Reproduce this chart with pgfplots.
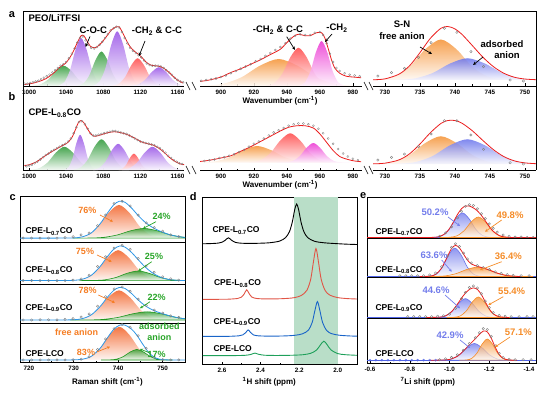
\documentclass[border=0pt]{standalone}
\usepackage{fontspec}
\setmainfont{Liberation Sans}
\usepackage{pgfplots}
\pgfplotsset{compat=1.18}
\usetikzlibrary{arrows.meta}
\definecolor{gC}{RGB}{40,150,50}
\definecolor{pC}{RGB}{150,80,230}
\definecolor{rC}{RGB}{255,70,70}
\definecolor{oC}{RGB}{245,145,50}
\definecolor{mC}{RGB}{235,50,210}
\definecolor{bC}{RGB}{105,115,235}
\definecolor{envR}{RGB}{235,30,30}
\definecolor{cO}{RGB}{242,95,35}
\definecolor{cG}{RGB}{30,150,30}
\definecolor{cB}{RGB}{45,150,230}
\definecolor{dR}{RGB}{225,85,70}
\definecolor{dB}{RGB}{25,100,200}
\definecolor{dG}{RGB}{30,160,90}
\definecolor{band}{RGB}{185,222,200}
\definecolor{tO}{RGB}{245,125,35}
\definecolor{tG}{RGB}{40,165,40}
\definecolor{tB}{RGB}{115,125,235}
\definecolor{eO}{RGB}{245,140,40}
\definecolor{eBl}{RGB}{80,100,230}
\newcommand\T[1]{\fontsize{#1}{#1}\selectfont\bfseries}
\pgfplotsset{
  base/.style={scale only axis, anchor=north west, clip=true,
    tick align=inside, major tick length=2.5pt, minor tick length=1.5pt,
    every tick/.style={black, line width=0.5pt},
    axis line style={black, line width=0.75pt},
    xticklabel style={font=\T{6.3}, inner sep=2pt, yshift=-1.5pt},
    /pgf/number format/assume math mode=true,
    /pgf/number format/1000 sep={},
    ymin=0, ymax=1, ytick=\empty},
  topax/.style={base, axis x line*=bottom, axis y line=none, minor tick num=1},
  boxax/.style={base, xtick pos=bottom, minor tick num=1},
  comp/.style={draw=none, smooth, top color=#1, bottom color=#1!6, fill opacity=0.85},
  ecomp/.style={draw=#1, line width=0.6pt, smooth, top color=#1, bottom color=#1!5, fill opacity=0.75},
  env/.style={smooth, envR, line width=0.8pt},
  circ/.style={only marks, mark=o, mark size=1.05pt, mark options={gray, line width=0.3pt}},
  bcirc/.style={only marks, mark=o, mark size=1.2pt, mark options={gray, line width=0.4pt}},
  revx/.style={x dir=reverse, xmin=-1.435, xmax=-0.585},
}
\begin{document}
\begin{tikzpicture}
\useasboundingbox (0,0) rectangle (554pt,-393pt);
% ---------------- panel a ----------------
\begin{axis}[topax, at={(23pt,-11pt)}, width=161pt, height=75pt, xmin=993.4, xmax=1167, xtick={1000,1040,1080,1120,1160}]
\addplot[comp=gC] coordinates {(1004,0.003)(1012,0.022)(1021,0.091)(1029,0.211)(1037,0.27)(1045,0.211)(1053,0.091)(1062,0.022)(1070,0.003)} \closedcycle;
\addplot[comp=pC] coordinates {(1032,0.007)(1038,0.051)(1044,0.208)(1050,0.483)(1056,0.64)(1062,0.483)(1068,0.208)(1074,0.051)(1080,0.007)} \closedcycle;
\addplot[comp=gC] coordinates {(1052.5,0.005)(1058.9,0.037)(1065.25,0.15)(1071.6,0.347)(1078,0.46)(1084.4,0.347)(1090.75,0.15)(1097.1,0.037)(1103.5,0.005)} \closedcycle;
\addplot[comp=pC] coordinates {(1069.5,0.008)(1075.9,0.058)(1082.25,0.237)(1088.6,0.551)(1095,0.73)(1101.4,0.551)(1107.75,0.237)(1114.1,0.058)(1120.5,0.008)} \closedcycle;
\addplot[comp=rC] coordinates {(1090,0.004)(1096.75,0.03)(1103.5,0.12)(1110.25,0.279)(1117,0.37)(1123.75,0.279)(1130.5,0.12)(1137.25,0.03)(1144,0.004)} \closedcycle;
\addplot[comp=pC] coordinates {(1110,0.003)(1117.5,0.02)(1125,0.081)(1132.5,0.189)(1140,0.25)(1147.5,0.189)(1155,0.081)(1162.5,0.02)(1170,0.003)} \closedcycle;
\addplot[circ] coordinates {(995,0.03)(998,0.03)(1001,0.04)(1004,0.05)(1007,0.06)(1010,0.07)(1013,0.09)(1016,0.11)(1019,0.13)(1022,0.15)(1025,0.18)(1028,0.21)(1031,0.24)(1034,0.27)(1037,0.29)(1040,0.32)(1043,0.37)(1046,0.43)(1049,0.50)(1052,0.58)(1055,0.64)(1058,0.66)(1061,0.61)(1064,0.55)(1067,0.51)(1070,0.50)(1073,0.52)(1076,0.55)(1079,0.59)(1082,0.64)(1085,0.69)(1088,0.74)(1091,0.77)(1094,0.79)(1097,0.78)(1100,0.72)(1103,0.64)(1106,0.57)(1109,0.51)(1112,0.47)(1115,0.44)(1118,0.41)(1121,0.38)(1124,0.34)(1127,0.30)(1130,0.28)(1133,0.27)(1136,0.27)(1139,0.27)(1142,0.26)(1145,0.24)(1148,0.21)(1151,0.18)(1154,0.15)(1157,0.11)(1160,0.08)(1163,0.06)(1166,0.05)};
\addplot[env] coordinates {(995,0.02)(1005,0.04)(1015,0.08)(1021,0.12)(1028,0.19)(1033,0.25)(1039,0.30)(1044,0.38)(1048,0.47)(1052,0.58)(1056,0.67)(1059,0.67)(1062,0.61)(1066,0.53)(1071,0.51)(1075,0.54)(1079,0.59)(1084,0.67)(1089,0.75)(1094,0.79)(1097,0.79)(1100,0.73)(1104,0.63)(1108,0.54)(1112,0.48)(1117,0.43)(1121,0.39)(1126,0.32)(1131,0.28)(1136,0.27)(1141,0.26)(1146,0.23)(1151,0.18)(1156,0.12)(1161,0.07)(1166,0.04)};
\end{axis}
\begin{axis}[topax, at={(200pt,-11pt)}, width=162pt, height=75pt, xmin=887.3, xmax=985.5, xtick={900,920,940,960,980}]
\addplot[comp=oC] coordinates {(890,0.004)(901.25,0.029)(912.5,0.117)(923.75,0.272)(935,0.36)(946.25,0.272)(957.5,0.117)(968.75,0.029)(980,0.004)} \closedcycle;
\addplot[comp=rC] coordinates {(927.5,0.006)(932.4,0.041)(937.25,0.166)(942.1,0.385)(947,0.51)(951.9,0.385)(956.75,0.166)(961.6,0.041)(966.5,0.006)} \closedcycle;
\addplot[comp=mC] coordinates {(947.5,0.007)(950.9,0.048)(954.25,0.195)(957.6,0.453)(961,0.60)(964.4,0.453)(967.75,0.195)(971.1,0.048)(974.5,0.007)} \closedcycle;
\addplot[circ] coordinates {(888,0.07)(891,0.08)(894,0.09)(897,0.10)(900,0.12)(903,0.14)(906,0.17)(909,0.20)(912,0.23)(915,0.26)(918,0.29)(921,0.33)(924,0.36)(927,0.40)(930,0.44)(933,0.48)(936,0.52)(939,0.57)(942,0.63)(945,0.67)(948,0.69)(951,0.68)(954,0.68)(957,0.71)(960,0.72)(962,0.68)(964,0.57)(966,0.43)(968,0.32)(970,0.24)(972,0.20)(975,0.17)(978,0.15)(981,0.14)(984,0.13)};
\addplot[env] coordinates {(887,0.06)(893,0.08)(900,0.12)(906,0.18)(912,0.23)(918,0.29)(924,0.35)(930,0.42)(936,0.49)(940,0.58)(944,0.66)(947,0.69)(951,0.67)(954,0.67)(958,0.71)(961,0.71)(963,0.64)(965,0.50)(967,0.35)(969,0.24)(972,0.17)(976,0.13)(980,0.12)(985,0.11)};
\end{axis}
\begin{axis}[topax, at={(373pt,-11pt)}, width=163pt, height=75pt, xmin=728.3, xmax=751.6, xtick={730,735,740,745,750}]
\addplot[comp=oC] coordinates {(726,0.08)(729,0.086)(731.25,0.123)(733.5,0.255)(735.75,0.488)(738,0.62)(740.25,0.488)(742.5,0.255)(744.75,0.123)(747,0.086)(750,0.08)} -- cycle;
\addplot[comp=bC] coordinates {(728.6,0.08)(731.9,0.083)(734.4,0.103)(736.85,0.174)(739.3,0.299)(741.8,0.37)(744.3,0.299)(746.75,0.174)(749.2,0.103)(751.7,0.083)(755,0.08)} -- cycle;
\addplot[bcirc] coordinates {(729.0,0.133)(730.95,0.178)(732.8,0.236)(734.8,0.382)(736.6,0.578)(738.5,0.769)(740.3,0.716)(742.3,0.458)(744.1,0.258)(747.9,0.08)(749.8,0.067)};
\addplot[env] coordinates {(728.3,0.083)(730,0.095)(732,0.157)(733.5,0.267)(735,0.443)(736.5,0.636)(738,0.769)(739,0.793)(740,0.762)(741,0.69)(742.5,0.539)(744,0.385)(745.5,0.259)(747,0.17)(748.5,0.117)(750,0.093)(751.6,0.084)};
\end{axis}
% ---------------- panel b ----------------
\begin{axis}[topax, at={(23pt,-95pt)}, width=161pt, height=75pt, xmin=993.4, xmax=1167, xtick={1000,1040,1080,1120,1160}]
\addplot[comp=gC] coordinates {(1002,0.003)(1011,0.025)(1020,0.101)(1029,0.234)(1038,0.31)(1047,0.234)(1056,0.101)(1065,0.025)(1074,0.003)} \closedcycle;
\addplot[comp=pC] coordinates {(1038.5,0.005)(1042.6,0.038)(1046.75,0.153)(1050.9,0.355)(1055,0.47)(1059.1,0.355)(1063.25,0.153)(1067.4,0.038)(1071.5,0.005)} \closedcycle;
\addplot[comp=gC] coordinates {(1048,0.005)(1055.5,0.033)(1063,0.133)(1070.5,0.310)(1078,0.41)(1085.5,0.310)(1093,0.133)(1100.5,0.033)(1108,0.005)} \closedcycle;
\addplot[comp=pC] coordinates {(1069,0.004)(1075.75,0.028)(1082.5,0.114)(1089.25,0.264)(1096,0.35)(1102.75,0.264)(1109.5,0.114)(1116.25,0.028)(1123,0.004)} \closedcycle;
\addplot[comp=rC] coordinates {(1096.5,0.002)(1100.6,0.018)(1104.75,0.072)(1108.9,0.166)(1113,0.22)(1117.1,0.166)(1121.25,0.072)(1125.4,0.018)(1129.5,0.002)} \closedcycle;
\addplot[comp=pC] coordinates {(1100,0.003)(1108.25,0.025)(1116.5,0.101)(1124.75,0.234)(1133,0.31)(1141.25,0.234)(1149.5,0.101)(1157.75,0.025)(1166,0.003)} \closedcycle;
\addplot[circ] coordinates {(997,0.05)(1000,0.06)(1003,0.07)(1006,0.09)(1009,0.11)(1012,0.14)(1015,0.17)(1018,0.20)(1021,0.22)(1024,0.25)(1027,0.27)(1030,0.29)(1033,0.31)(1036,0.33)(1039,0.35)(1042,0.38)(1045,0.42)(1048,0.49)(1051,0.57)(1054,0.64)(1057,0.65)(1060,0.61)(1063,0.55)(1066,0.49)(1069,0.46)(1072,0.46)(1075,0.47)(1078,0.48)(1081,0.49)(1084,0.50)(1087,0.51)(1090,0.52)(1093,0.52)(1096,0.51)(1099,0.50)(1102,0.49)(1105,0.48)(1108,0.46)(1111,0.44)(1114,0.42)(1117,0.40)(1120,0.38)(1123,0.37)(1126,0.36)(1129,0.35)(1132,0.34)(1135,0.33)(1138,0.31)(1141,0.29)(1144,0.26)(1147,0.23)(1150,0.19)(1153,0.16)(1156,0.13)(1159,0.11)(1162,0.09)(1165,0.08)};
\addplot[env] coordinates {(995,0.06)(1000,0.07)(1008,0.11)(1015,0.17)(1021,0.22)(1028,0.27)(1035,0.32)(1041,0.36)(1046,0.43)(1050,0.54)(1053,0.63)(1056,0.66)(1059,0.63)(1062,0.57)(1066,0.49)(1070,0.45)(1075,0.46)(1080,0.48)(1086,0.50)(1092,0.51)(1098,0.50)(1104,0.48)(1110,0.45)(1116,0.41)(1122,0.37)(1128,0.35)(1134,0.33)(1140,0.29)(1146,0.23)(1152,0.16)(1158,0.11)(1163,0.08)(1168,0.07)};
\end{axis}
\begin{axis}[topax, at={(200pt,-95pt)}, width=162pt, height=75pt, xmin=887.3, xmax=985.5, xtick={900,920,940,960,980}]
\addplot[comp=oC] coordinates {(878,0.1)(889,0.102)(897.25,0.118)(905.5,0.172)(913.75,0.266)(922,0.32)(930.25,0.266)(938.5,0.172)(946.75,0.118)(955,0.102)(966,0.1)} -- cycle;
\addplot[comp=rC] coordinates {(910,0.1)(918,0.104)(924,0.131)(930,0.227)(936,0.394)(942,0.49)(948,0.394)(954,0.227)(960,0.131)(966,0.104)(974,0.1)} -- cycle;
\addplot[comp=mC] coordinates {(934,0.1)(939.5,0.103)(943.6,0.121)(947.75,0.185)(951.9,0.296)(956,0.36)(960.1,0.296)(964.25,0.185)(968.4,0.121)(972.5,0.103)(978,0.1)} -- cycle;
\addplot[circ] coordinates {(887,0.11)(890,0.12)(893,0.13)(896,0.14)(899,0.16)(902,0.17)(905,0.19)(908,0.21)(911,0.24)(914,0.27)(917,0.31)(920,0.35)(923,0.38)(926,0.42)(929,0.46)(932,0.50)(935,0.53)(938,0.56)(941,0.59)(944,0.61)(947,0.62)(950,0.62)(953,0.61)(956,0.59)(959,0.55)(962,0.49)(965,0.42)(968,0.35)(971,0.28)(974,0.22)(977,0.18)(980,0.15)(983,0.13)};
\addplot[env] coordinates {(886,0.11)(893,0.13)(900,0.16)(906,0.19)(912,0.25)(918,0.31)(924,0.38)(930,0.45)(936,0.52)(941,0.57)(946,0.59)(951,0.59)(956,0.56)(960,0.48)(964,0.37)(968,0.26)(972,0.18)(977,0.14)(981,0.12)(985,0.11)};
\end{axis}
\begin{axis}[topax, at={(373pt,-95pt)}, width=163pt, height=75pt, xmin=728.3, xmax=751.6, xtick={730,735,740,745,750}]
\addplot[comp=oC] coordinates {(726,0.08)(729,0.084)(731.25,0.11)(733.5,0.2)(735.75,0.359)(738,0.45)(740.25,0.359)(742.5,0.2)(744.75,0.11)(747,0.084)(750,0.08)} -- cycle;
\addplot[comp=bC] coordinates {(728.6,0.08)(731.9,0.084)(734.4,0.106)(736.85,0.187)(739.3,0.329)(741.8,0.41)(744.3,0.329)(746.75,0.187)(749.2,0.106)(751.7,0.084)(755,0.08)} -- cycle;
\addplot[bcirc] coordinates {(729.0,0.133)(730.95,0.169)(732.8,0.213)(734.8,0.311)(736.6,0.48)(738.5,0.657)(740.3,0.657)(742.3,0.467)(744.1,0.276)(747.9,0.097)(749.8,0.08)};
\addplot[env] coordinates {(728.3,0.082)(730,0.091)(732,0.134)(733.5,0.214)(735,0.345)(736.5,0.497)(738,0.62)(739,0.66)(740,0.66)(741,0.625)(742.5,0.523)(744,0.394)(745.5,0.272)(747,0.179)(748.5,0.122)(750,0.095)(751.6,0.084)};
\end{axis}
% frame and breaks for a/b
\draw[line width=0.75pt] (23pt,-170pt) -- (23pt,-11pt) -- (536pt,-11pt) -- (536pt,-170pt);
\foreach \yy in {86,170}{
  \foreach \xx in {188,194,366,371}{
    \draw[line width=0.6pt] ({\xx pt-2pt},{-\yy pt+4pt}) -- ({\xx pt+2pt},{-\yy pt-4pt});
  }
}
% ---------------- panel c ----------------
\begin{axis}[boxax, at={(20pt,-196.7pt)}, width=165pt, height=46pt, xmin=718, xmax=755, xtick=\empty]
\addplot[comp=cO] coordinates {(727.4,0.1)(730.6,0.108)(733,0.158)(735.4,0.334)(737.8,0.644)(740.2,0.82)(742.6,0.644)(745,0.334)(747.4,0.158)(749.8,0.108)(753,0.1)} -- cycle;
\addplot[ecomp=cG] coordinates {(729.8,0.1)(733.8,0.102)(736.8,0.117)(739.8,0.168)(742.8,0.259)(745.8,0.31)(748.8,0.259)(751.8,0.168)(754.8,0.117)(757.8,0.102)(761.8,0.1)} -- cycle;
\addplot[smooth, cB, line width=0.8pt] coordinates {(718,0.1)(726,0.1)(730,0.104)(732,0.128)(734,0.213)(736,0.415)(737.5,0.628)(739,0.821)(740.2,0.899)(741.5,0.881)(743,0.755)(744.5,0.591)(746,0.45)(747.5,0.345)(749,0.268)(750.5,0.209)(752,0.163)(754,0.126)(755,0.115)};
\addplot[bcirc] coordinates {(718.7,0.1)(720.6,0.1)(722.5,0.1)(724.4,0.1)(726.3,0.1)(728.1,0.11)(729.9,0.13)(731.7,0.17)(733.5,0.21)(735.4,0.37)(737.2,0.6)(739.1,0.85)(740.9,0.9)(742.7,0.8)(744.5,0.6)(746.3,0.43)(748.1,0.33)(750,0.25)(751.8,0.17)(753.6,0.13)};
\end{axis}
\begin{axis}[boxax, at={(20pt,-242.7pt)}, width=165pt, height=41.6pt, xmin=718, xmax=755, xtick=\empty]
\addplot[comp=cO] coordinates {(727.2,0.09)(730.4,0.098)(732.8,0.148)(735.2,0.327)(737.6,0.641)(740,0.82)(742.4,0.641)(744.8,0.327)(747.2,0.148)(749.6,0.098)(752.8,0.09)} -- cycle;
\addplot[ecomp=cG] coordinates {(731.3,0.09)(734.6,0.093)(737.05,0.108)(739.55,0.165)(742.0,0.264)(744.5,0.32)(746.95,0.264)(749.45,0.165)(751.9,0.108)(754.4,0.093)(757.7,0.09)} -- cycle;
\addplot[smooth, cB, line width=0.8pt] coordinates {(718,0.09)(726,0.09)(730,0.096)(732,0.122)(734,0.217)(736,0.432)(737.5,0.652)(739,0.842)(740.3,0.919)(741.5,0.896)(743,0.767)(744.5,0.592)(746,0.423)(747.5,0.289)(749,0.195)(750.5,0.137)(752,0.107)(754,0.093)(755,0.09)};
\addplot[bcirc] coordinates {(718.7,0.09)(720.6,0.09)(722.5,0.09)(724.4,0.09)(726.3,0.09)(728.1,0.09)(729.9,0.1)(731.7,0.13)(733.5,0.22)(735.4,0.43)(737.2,0.66)(739.1,0.87)(740.9,0.94)(742.7,0.84)(744.5,0.62)(746.3,0.44)(748.1,0.29)(750,0.18)(751.8,0.13)(753.6,0.1)};
\end{axis}
\begin{axis}[boxax, at={(20pt,-284.3pt)}, width=165pt, height=39pt, xmin=718, xmax=755, xtick=\empty]
\addplot[comp=cO] coordinates {(727,0.085)(730.3,0.093)(732.75,0.146)(735.25,0.332)(737.7,0.659)(740.2,0.845)(742.7,0.659)(745.15,0.332)(747.6,0.146)(750.1,0.093)(753.4,0.085)} -- cycle;
\addplot[ecomp=cG] coordinates {(729.3,0.085)(733.6,0.087)(736.8,0.102)(740.05,0.153)(743.3,0.244)(746.5,0.295)(749.7,0.244)(752.95,0.153)(756.2,0.102)(759.4,0.087)(763.7,0.085)} -- cycle;
\addplot[smooth, cB, line width=0.8pt] coordinates {(718,0.085)(726,0.085)(730,0.091)(732,0.12)(734,0.218)(736,0.434)(737.5,0.653)(739,0.842)(740.2,0.917)(741.5,0.895)(743,0.766)(744.5,0.599)(746,0.456)(747.5,0.355)(749,0.284)(750.5,0.227)(752,0.178)(753.5,0.141)(755,0.115)};
\addplot[bcirc] coordinates {(718.7,0.085)(720.6,0.085)(722.5,0.09)(724.4,0.09)(726.3,0.09)(728.1,0.1)(729.9,0.12)(731.7,0.16)(733.5,0.24)(735.4,0.44)(737.2,0.68)(739.1,0.88)(740.9,0.93)(742.7,0.82)(744.5,0.62)(746.3,0.46)(748.1,0.34)(750,0.26)(751.8,0.19)(753.6,0.15)};
\end{axis}
\begin{axis}[boxax, at={(20pt,-323.3pt)}, width=165pt, height=39pt, xmin=718, xmax=755, xtick={720,730,740,750}]
\addplot[comp=cO] coordinates {(728.3,0.06)(731.3,0.069)(733.55,0.128)(735.8,0.336)(738.05,0.702)(740.3,0.91)(742.55,0.702)(744.8,0.336)(747.05,0.128)(749.3,0.069)(752.3,0.06)} -- cycle;
\addplot[ecomp=cG] coordinates {(736.2,0.06)(738.2,0.063)(739.7,0.082)(741.2,0.148)(742.7,0.264)(744.2,0.33)(745.7,0.264)(747.2,0.148)(748.7,0.082)(750.2,0.063)(752.2,0.06)} -- cycle;
\addplot[smooth, cB, line width=0.8pt] coordinates {(718,0.06)(728,0.06)(730,0.064)(732,0.079)(734,0.154)(736,0.364)(737.5,0.61)(739,0.843)(740.3,0.95)(741.5,0.954)(743,0.853)(744.2,0.695)(745.5,0.469)(747,0.231)(748.5,0.107)(750,0.068)(752,0.06)(755,0.06)};
\addplot[bcirc] coordinates {(718.7,0.06)(720.6,0.06)(722.5,0.06)(724.4,0.06)(726.3,0.06)(728.1,0.06)(729.9,0.065)(731.7,0.08)(733.5,0.14)(735.4,0.33)(737.2,0.6)(739.1,0.86)(740.9,0.97)(742.7,0.9)(744.5,0.68)(746.3,0.36)(748.1,0.13)(750,0.07)(751.8,0.06)(753.6,0.06)};
\end{axis}
% ---------------- panel d ----------------
\begin{axis}[boxax, at={(202pt,-197pt)}, width=155pt, height=167pt, x dir=reverse, xmin=1.9, xmax=2.704, ymin=0, ymax=167,
  xtick={2.0,2.2,2.4,2.6}, xticklabel style={/pgf/number format/fixed, /pgf/number format/fixed zerofill, /pgf/number format/precision=1}]
\addplot[fill=band, draw=none] coordinates {(2.0,0)(2.0,167)(2.225,167)(2.225,0)} -- cycle;
\addplot[smooth, black, line width=0.9pt] coordinates {(2.70,120.2)(2.65,120.5)(2.62,120.9)(2.60,121.8)(2.585,123.5)(2.567,126.2)(2.55,123.7)(2.53,121.6)(2.50,120.8)(2.45,120.6)(2.40,120.8)(2.35,121.3)(2.30,123)(2.27,126.5)(2.25,132.5)(2.235,142.5)(2.223,154.5)(2.213,160)(2.203,154.5)(2.19,141.7)(2.175,132.1)(2.155,126.3)(2.12,122.7)(2.07,121.2)(2.00,120.3)(1.95,119.8)(1.90,119.5)};
\addplot[smooth, dR, line width=0.9pt] coordinates {(2.70,64.6)(2.62,64.7)(2.57,64.8)(2.52,65.5)(2.50,66.8)(2.485,70.1)(2.472,74.2)(2.46,70.5)(2.445,66.9)(2.42,65.5)(2.38,65.1)(2.33,65.1)(2.28,65.4)(2.23,66.2)(2.19,68.4)(2.16,73.7)(2.14,84.9)(2.127,100.8)(2.113,115.5)(2.10,102.3)(2.086,84.9)(2.065,73.4)(2.04,68.8)(2.00,66.4)(1.95,65.4)(1.90,65.0)};
\addplot[smooth, dB, line width=0.9pt] coordinates {(2.70,27.57)(2.6125,27.64)(2.5625,27.7)(2.5125,28.2)(2.4925,29.1)(2.4775,31.3)(2.4645,34.1)(2.4525,31.6)(2.4375,29.1)(2.4125,28.2)(2.3725,27.9)(2.3225,27.9)(2.2725,28.1)(2.2225,28.7)(2.1825,30.2)(2.1525,33.8)(2.1325,41.5)(2.1195,52.4)(2.1055,62.4)(2.0925,53.4)(2.0785,41.5)(2.0575,33.6)(2.0325,30.4)(1.9925,28.8)(1.9425,28.1)(1.90,27.8)};
\addplot[smooth, dG, line width=0.9pt] coordinates {(2.70,8.35)(2.55,8.4)(2.48,8.7)(2.45,9.6)(2.429,10.9)(2.41,9.7)(2.38,8.8)(2.33,8.55)(2.28,8.6)(2.23,8.8)(2.18,9.3)(2.14,10.7)(2.11,13.9)(2.09,19.0)(2.072,22.8)(2.055,19.3)(2.035,14.1)(2.00,10.4)(1.96,9.3)(1.90,8.7)};
\end{axis}
% ---------------- panel e ----------------
\begin{axis}[boxax, revx, at={(367pt,-197.3pt)}, width=169pt, height=41pt, xtick=\empty]
\addplot[ecomp=bC] coordinates {(-0.885,0.02)(-0.930,0.027)(-0.9638,0.068)(-0.9975,0.215)(-1.0313,0.473)(-1.065,0.62)(-1.0988,0.473)(-1.1325,0.215)(-1.1663,0.068)(-1.2,0.027)(-1.245,0.02)} -- cycle;
\addplot[ecomp=eO] coordinates {(-0.953,0.02)(-1.001,0.026)(-1.037,0.06)(-1.073,0.183)(-1.109,0.398)(-1.145,0.52)(-1.181,0.398)(-1.217,0.183)(-1.253,0.06)(-1.289,0.026)(-1.337,0.02)} -- cycle;
\addplot[bcirc] coordinates {(-0.95,0.05)(-0.98,0.13)(-1.01,0.28)(-1.04,0.5)(-1.06,0.66)(-1.08,0.78)(-1.10,0.82)(-1.12,0.8)(-1.14,0.72)(-1.16,0.6)(-1.18,0.48)(-1.20,0.35)(-1.22,0.24)(-1.24,0.15)(-1.27,0.08)(-1.30,0.05)(-1.33,0.03)(-1.36,0.03)(-1.39,0.02)(-1.42,0.02)};
\addplot[env] coordinates {(-0.585,0.02)(-0.85,0.02)(-0.92,0.023)(-0.95,0.043)(-0.98,0.122)(-1.0,0.236)(-1.02,0.401)(-1.04,0.58)(-1.06,0.72)(-1.08,0.788)(-1.10,0.786)(-1.12,0.741)(-1.14,0.67)(-1.16,0.561)(-1.18,0.426)(-1.20,0.287)(-1.22,0.168)(-1.25,0.066)(-1.28,0.03)(-1.32,0.02)(-1.435,0.02)};
\end{axis}
\begin{axis}[boxax, revx, at={(367pt,-238.3pt)}, width=169pt, height=39pt, xtick=\empty]
\addplot[eBl, line width=0.8pt] coordinates {(-0.585,0.02)(-1.435,0.02)};
\addplot[ecomp=bC] coordinates {(-0.859,0.02)(-0.901,0.028)(-0.9325,0.078)(-0.964,0.257)(-0.9955,0.571)(-1.027,0.75)(-1.0585,0.571)(-1.09,0.257)(-1.1215,0.078)(-1.153,0.028)(-1.195,0.02)} -- cycle;
\addplot[ecomp=eO] coordinates {(-0.86,0.02)(-0.93,0.023)(-0.9825,0.039)(-1.035,0.098)(-1.0875,0.201)(-1.14,0.26)(-1.1925,0.201)(-1.245,0.098)(-1.2975,0.039)(-1.35,0.023)(-1.42,0.02)} -- cycle;
\addplot[bcirc] coordinates {(-0.75,0.04)(-0.78,0.04)(-0.81,0.04)(-0.84,0.04)(-0.87,0.04)(-0.90,0.06)(-0.93,0.11)(-0.96,0.27)(-0.99,0.55)(-1.01,0.77)(-1.03,0.86)(-1.05,0.79)(-1.07,0.62)(-1.09,0.47)(-1.11,0.37)(-1.14,0.3)(-1.17,0.25)(-1.20,0.2)(-1.23,0.14)(-1.26,0.1)(-1.29,0.07)(-1.32,0.05)(-1.36,0.04)(-1.40,0.04)};
\addplot[env] coordinates {(-0.85,0.02)(-0.90,0.028)(-0.93,0.074)(-0.96,0.234)(-0.99,0.539)(-1.01,0.735)(-1.03,0.82)(-1.05,0.753)(-1.07,0.598)(-1.09,0.443)(-1.11,0.343)(-1.14,0.28)(-1.17,0.24)(-1.20,0.186)(-1.24,0.107)(-1.28,0.052)(-1.32,0.029)(-1.36,0.02)};
\end{axis}
\begin{axis}[boxax, revx, at={(367pt,-277.3pt)}, width=169pt, height=41pt, xtick=\empty]
\addplot[eBl, line width=0.8pt] coordinates {(-0.585,0.02)(-1.435,0.02)};
\addplot[ecomp=bC] coordinates {(-0.90,0.02)(-0.945,0.025)(-0.9788,0.057)(-1.0125,0.17)(-1.0463,0.367)(-1.08,0.48)(-1.1138,0.367)(-1.1475,0.17)(-1.1813,0.057)(-1.215,0.025)(-1.26,0.02)} -- cycle;
\addplot[ecomp=eO] coordinates {(-0.985,0.02)(-1.025,0.026)(-1.055,0.06)(-1.085,0.183)(-1.115,0.398)(-1.145,0.52)(-1.175,0.398)(-1.205,0.183)(-1.235,0.06)(-1.265,0.026)(-1.305,0.02)} -- cycle;
\addplot[bcirc] coordinates {(-0.79,0.04)(-0.82,0.04)(-0.85,0.04)(-0.88,0.04)(-0.91,0.04)(-0.94,0.05)(-0.97,0.06)(-1.00,0.1)(-1.03,0.24)(-1.06,0.48)(-1.08,0.63)(-1.10,0.75)(-1.12,0.79)(-1.14,0.74)(-1.16,0.6)(-1.18,0.42)(-1.20,0.26)(-1.22,0.14)(-1.25,0.07)(-1.28,0.05)(-1.31,0.04)(-1.35,0.04)(-1.39,0.04)(-1.42,0.04)};
\addplot[env] coordinates {(-0.88,0.02)(-0.95,0.027)(-0.98,0.059)(-1.01,0.159)(-1.04,0.346)(-1.06,0.489)(-1.08,0.614)(-1.10,0.703)(-1.12,0.741)(-1.14,0.705)(-1.16,0.581)(-1.18,0.40)(-1.20,0.227)(-1.22,0.108)(-1.25,0.038)(-1.30,0.02)};
\end{axis}
\begin{axis}[boxax, revx, at={(367pt,-318.3pt)}, width=169pt, height=45pt, xtick={-1.4,-1.2,-1.0,-0.8,-0.6},
  xticklabel style={/pgf/number format/fixed, /pgf/number format/fixed zerofill, /pgf/number format/precision=1}]
\addplot[eBl, line width=0.8pt] coordinates {(-0.585,0.07)(-1.435,0.07)};
\addplot[only marks, mark=o, mark size=1.1pt, mark options={eBl, line width=0.4pt}] coordinates {(-0.60,0.07)(-0.63,0.07)(-0.66,0.07)(-0.69,0.07)(-0.72,0.07)(-0.75,0.07)(-0.78,0.07)(-0.81,0.07)(-0.84,0.07)(-0.87,0.07)(-0.90,0.07)(-0.93,0.07)};
\addplot[ecomp=bC] coordinates {(-0.925,0.07)(-0.975,0.074)(-1.0125,0.1)(-1.05,0.19)(-1.0875,0.349)(-1.125,0.44)(-1.1625,0.349)(-1.2,0.19)(-1.2375,0.1)(-1.275,0.074)(-1.325,0.07)} -- cycle;
\addplot[ecomp=eO] coordinates {(-1.05,0.07)(-1.085,0.075)(-1.1113,0.108)(-1.1375,0.223)(-1.1638,0.425)(-1.19,0.54)(-1.2163,0.425)(-1.2425,0.223)(-1.2688,0.108)(-1.295,0.075)(-1.33,0.07)} -- cycle;
\addplot[bcirc] coordinates {(-0.95,0.08)(-0.98,0.1)(-1.01,0.13)(-1.04,0.19)(-1.07,0.29)(-1.10,0.44)(-1.13,0.57)(-1.15,0.68)(-1.17,0.77)(-1.19,0.75)(-1.21,0.6)(-1.23,0.39)(-1.25,0.22)(-1.27,0.13)(-1.30,0.09)(-1.33,0.08)(-1.37,0.08)(-1.41,0.08)};
\addplot[env] coordinates {(-0.90,0.07)(-0.95,0.071)(-1.00,0.086)(-1.04,0.157)(-1.07,0.273)(-1.10,0.413)(-1.125,0.524)(-1.15,0.641)(-1.17,0.716)(-1.19,0.699)(-1.21,0.556)(-1.23,0.356)(-1.25,0.194)(-1.27,0.11)(-1.30,0.073)(-1.34,0.07)};
\end{axis}
% ---------------- texts ----------------
\node[font={\T{11}}] at (12pt,-15pt) {a};
\node[font={\T{11}}] at (12pt,-97pt) {b};
\node[font={\T{11}}] at (12.7pt,-197.5pt) {c};
\node[font={\T{11}}] at (193.3pt,-196.7pt) {d};
\node[font={\T{11}}] at (363.3pt,-196pt) {e};
\node[font={\T{9.5}}, anchor=west] at (25pt,-18pt) {PEO/LiTFSI};
\node[font={\T{9.5}}, anchor=west] at (25pt,-113pt) {CPE-L\textsubscript{0.8}CO};
\node[font={\T{9.5}}] at (93.3pt,-30pt) {C-O-C};
\draw[-{Stealth[length=3.5pt,width=3pt]}, line width=0.7pt] (90pt,-36.5pt) -- (85.5pt,-47pt);
\node[font={\T{9.5}}] at (157pt,-31pt) {-CH\textsubscript{2} \& C-C};
\draw[-{Stealth[length=3.5pt,width=3pt]}, line width=0.7pt] (145pt,-41pt) -- (139pt,-56pt);
\node[font={\T{9.5}}] at (278pt,-30pt) {-CH\textsubscript{2} \& C-C};
\draw[-{Stealth[length=3.5pt,width=3pt]}, line width=0.7pt] (286.7pt,-36.7pt) -- (295pt,-50pt);
\node[font={\T{9.5}}] at (337pt,-28pt) {-CH\textsubscript{2}};
\draw[-{Stealth[length=3.5pt,width=3pt]}, line width=0.7pt] (332pt,-34pt) -- (325pt,-42pt);
\node[font={\T{9.5}}] at (402pt,-24pt) {S-N};
\node[font={\T{9.5}}] at (402pt,-36pt) {free anion};
\draw[-{Stealth[length=3.5pt,width=3pt]}, line width=0.7pt] (420pt,-47pt) -- (432pt,-54pt);
\node[font={\T{9.5}}] at (502pt,-44pt) {adsorbed};
\node[font={\T{9.5}}] at (507pt,-55pt) {anion};
\draw[-{Stealth[length=3.5pt,width=3pt]}, line width=0.7pt] (483pt,-57pt) -- (473pt,-65pt);
\node[font={\T{8}}] at (280pt,-101pt) {Wavenumber (cm\textsuperscript{-1})};
\node[font={\T{8}}] at (280pt,-185pt) {Wavenumber (cm\textsuperscript{-1})};
% c texts
\node[font={\T{8.5}}, anchor=west] at (22pt,-231.7pt) {CPE-L\textsubscript{0.7}CO};
\node[font={\T{8.5}}, anchor=west] at (22pt,-270.7pt) {CPE-L\textsubscript{0.8}CO};
\node[font={\T{8.5}}, anchor=west] at (22pt,-308.3pt) {CPE-L\textsubscript{0.9}CO};
\node[font={\T{8.5}}, anchor=west] at (22pt,-354pt) {CPE-LCO};
\node[font={\T{9}}, text=tO] at (87.3pt,-210pt) {76\%};
\node[font={\T{9}}, text=tG] at (161.7pt,-216.7pt) {24\%};
\node[font={\T{9}}, text=tO] at (85pt,-251pt) {75\%};
\node[font={\T{9}}, text=tG] at (154pt,-256.7pt) {25\%};
\node[font={\T{9}}, text=tO] at (87.7pt,-290.7pt) {78\%};
\node[font={\T{9}}, text=tG] at (156.7pt,-297.3pt) {22\%};
\node[font={\T{9}}, text=tO] at (76.7pt,-332.7pt) {free anion};
\node[font={\T{9}}, text=tG] at (159.3pt,-326.7pt) {adsorbed};
\node[font={\T{9}}, text=tG] at (159.3pt,-337.7pt) {anion};
\node[font={\T{9}}, text=tO] at (86pt,-352.7pt) {83\%};
\node[font={\T{9}}, text=tG] at (156.7pt,-354.3pt) {17\%};
\draw[-{Stealth[length=3pt,width=3pt]}, line width=0.7pt, tO] (100pt,-215pt) -- (113pt,-221.7pt);
\draw[-{Stealth[length=3pt,width=3pt]}, line width=0.7pt, tG] (156pt,-221.7pt) -- (143pt,-228.5pt);
\draw[-{Stealth[length=3pt,width=3pt]}, line width=0.7pt, tO] (97pt,-255pt) -- (111.7pt,-261.7pt);
\draw[-{Stealth[length=3pt,width=3pt]}, line width=0.7pt, tG] (151.7pt,-261.7pt) -- (138.3pt,-271pt);
\draw[-{Stealth[length=3pt,width=3pt]}, line width=0.7pt, tO] (98.3pt,-295pt) -- (115pt,-302.7pt);
\draw[-{Stealth[length=3pt,width=3pt]}, line width=0.7pt, tG] (150pt,-301.7pt) -- (140pt,-308.3pt);
\draw[-{Stealth[length=3pt,width=3pt]}, line width=0.7pt, tO] (96.7pt,-352pt) -- (110pt,-346.7pt);
\draw[-{Stealth[length=3pt,width=3pt]}, line width=0.7pt, tG] (150pt,-353pt) -- (140pt,-349pt);
\node[font={\T{8}}] at (107.5pt,-381.7pt) {Raman shift (cm\textsuperscript{-1})};
% d texts
\node[font={\T{8.5}}, anchor=west] at (209pt,-230.7pt) {CPE-L\textsubscript{0.7}CO};
\node[font={\T{8.5}}, anchor=west] at (210.5pt,-283.5pt) {CPE-L\textsubscript{0.8}CO};
\node[font={\T{8.5}}, anchor=west] at (210pt,-322pt) {CPE-L\textsubscript{0.9}CO};
\node[font={\T{8.5}}, anchor=west] at (210pt,-348.5pt) {CPE-LCO};
\node[font={\T{8}}] at (269.3pt,-381.7pt) {\textsuperscript{1}H shift (ppm)};
% e texts
\node[font={\T{8.5}}, anchor=west] at (372pt,-232.3pt) {CPE-L\textsubscript{0.7}CO};
\node[font={\T{8.5}}, anchor=west] at (372pt,-270pt) {CPE-L\textsubscript{0.8}CO};
\node[font={\T{8.5}}, anchor=west] at (372pt,-308.3pt) {CPE-L\textsubscript{0.9}CO};
\node[font={\T{8.5}}, anchor=west] at (372pt,-353.3pt) {CPE-LCO};
\node[font={\T{9.5}}, text=tB] at (435pt,-212.7pt) {50.2\%};
\node[font={\T{9.5}}, text=eO] at (510pt,-215pt) {49.8\%};
\node[font={\T{9.5}}, text=tB] at (434pt,-255pt) {63.6\%};
\node[font={\T{9.5}}, text=eO] at (508.3pt,-256.7pt) {36.4\%};
\node[font={\T{9.5}}, text=tB] at (436pt,-290pt) {44.6\%};
\node[font={\T{9.5}}, text=eO] at (511.7pt,-291.7pt) {55.4\%};
\node[font={\T{9.5}}, text=tB] at (450pt,-335.7pt) {42.9\%};
\node[font={\T{9.5}}, text=eO] at (518.3pt,-332.7pt) {57.1\%};
\draw[-{Stealth[length=3pt,width=3pt]}, line width=0.7pt, tB] (448pt,-217pt) -- (460pt,-226pt);
\draw[-{Stealth[length=3pt,width=3pt]}, line width=0.7pt, eO] (501.7pt,-220pt) -- (485pt,-231.7pt);
\draw[-{Stealth[length=3pt,width=3pt]}, line width=0.7pt, tB] (441.7pt,-260pt) -- (451.7pt,-271.7pt);
\draw[-{Stealth[length=3pt,width=3pt]}, line width=0.7pt, eO] (501.7pt,-261.7pt) -- (480pt,-270pt);
\draw[-{Stealth[length=3pt,width=3pt]}, line width=0.7pt, tB] (445pt,-295pt) -- (460pt,-308.3pt);
\draw[-{Stealth[length=3pt,width=3pt]}, line width=0.7pt, eO] (503.3pt,-296.7pt) -- (488.3pt,-305pt);
\draw[-{Stealth[length=3pt,width=3pt]}, line width=0.7pt, tB] (460pt,-340pt) -- (470pt,-348pt);
\draw[-{Stealth[length=3pt,width=3pt]}, line width=0.7pt, eO] (510pt,-337pt) -- (495pt,-347pt);
\node[font={\T{8}}] at (427.8pt,-381.7pt) {\textsuperscript{7}Li shift (ppm)};
\end{tikzpicture}
\end{document}
